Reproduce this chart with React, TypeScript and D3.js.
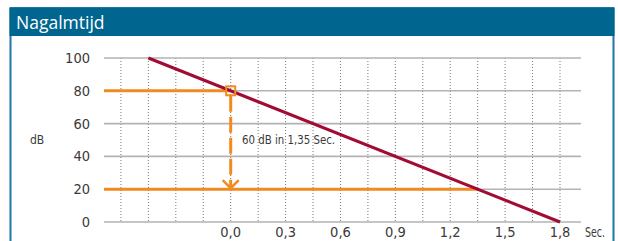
import React from "react";
import * as d3 from "d3";

const yTicks = [0, 20, 40, 60, 80, 100];
const xTicks = [0, 0.3, 0.6, 0.9, 1.2, 1.5, 1.8];
const decayTimes = [-0.45, 1.8];
const decayLevels = [100, 0];
const startLevel = 80;
const endLevel = 20;
const reverbTime = 1.35;
const title = "Nagalmtijd";
const note = "60 dB in 1,35 Sec.";

const W = 618;
const H = 241;
const red = "#a20b33";
const orange = "#f28a22";
const font = "'Liberation Sans Narrow', 'DejaVu Sans Condensed', sans-serif";

const App: React.FC = () => {
  const x = d3.scaleLinear().domain([0, 1.8]).range([230.7, 560]);
  const y = d3.scaleLinear().domain([0, 100]).range([222, 58]);
  const gridLeft = 104;
  const gridRight = 581;
  const vGrid = d3.range(-0.6, 1.81, 0.15);

  const line = d3
    .line<number>()
    .x((_, i) => x(decayTimes[i]))
    .y((d) => y(d));

  const ax = x(0);
  const arrowTop = y(startLevel) + 5;
  const arrowTip = y(endLevel);

  return (
    <svg width={W} height={H} style={{ position: "absolute", left: 0, top: 0 }}>
      {/* panel */}
      <rect x={10.5} y={8} width={603} height={260} fill="#fff" stroke="#1a77a8" strokeWidth={2} />
      <rect x={9.5} y={8} width={605} height={28} fill="#00668f" />
      <text x={16} y={29} fill="#fff" fontFamily="'Open Sans', sans-serif" fontSize={17.5}>
        {title}
      </text>

      {/* vertical dotted grid */}
      {vGrid.map((t) => (
        <line key={t} x1={x(t)} x2={x(t)} y1={y(100)} y2={y(0)} stroke="#777" strokeWidth={1} strokeDasharray="1,2" />
      ))}

      {/* horizontal grid */}
      {yTicks.map((v) => (
        <g key={v}>
          <line x1={gridLeft} x2={gridRight} y1={y(v)} y2={y(v)} stroke="#b3b3b3" strokeWidth={1.6} />
          <text x={90} y={y(v)} dy="0.35em" textAnchor="end" fontFamily={font} fontSize={14.5} fill="#3a3a3a">
            {v}
          </text>
        </g>
      ))}

      {xTicks.map((t) => (
        <text key={t} x={x(t)} y={237} textAnchor="middle" fontFamily={font} fontSize={14.5} fill="#3a3a3a">
          {t.toFixed(1).replace(".", ",")}
        </text>
      ))}
      <text x={585} y={237} fontFamily={font} fontSize={14.5} fill="#3a3a3a" textLength={20} lengthAdjust="spacingAndGlyphs">
        Sec.
      </text>
      <text x={30} y={y(50) + 4} fontFamily={font} fontSize={12} fill="#3a3a3a">
        dB
      </text>

      {/* orange level lines */}
      <line x1={gridLeft} x2={x(0)} y1={y(startLevel)} y2={y(startLevel)} stroke={orange} strokeWidth={3} />
      <line x1={gridLeft} x2={x(reverbTime)} y1={y(endLevel)} y2={y(endLevel)} stroke={orange} strokeWidth={3} />

      {/* decay line */}
      <path d={line(decayLevels) || ""} fill="none" stroke={red} strokeWidth={3} />

      {/* arrow */}
      <line x1={ax} x2={ax} y1={arrowTop} y2={arrowTip - 2} stroke={orange} strokeWidth={3} strokeDasharray="16,5" />
      <polyline
        points={`${ax - 8},${arrowTip - 9} ${ax},${arrowTip - 1} ${ax + 8},${arrowTip - 9}`}
        fill="none"
        stroke={orange}
        strokeWidth={2.5}
      />
      <rect x={ax - 4.5} y={y(startLevel) - 4.5} width={9} height={9} fill="none" stroke={orange} strokeWidth={2} />

      <text x={242} y={y(50) + 4} fontFamily={font} fontSize={12.5} fill="#3a3a3a" textLength={93} lengthAdjust="spacingAndGlyphs">
        {note}
      </text>
    </svg>
  );
};

export default App;
